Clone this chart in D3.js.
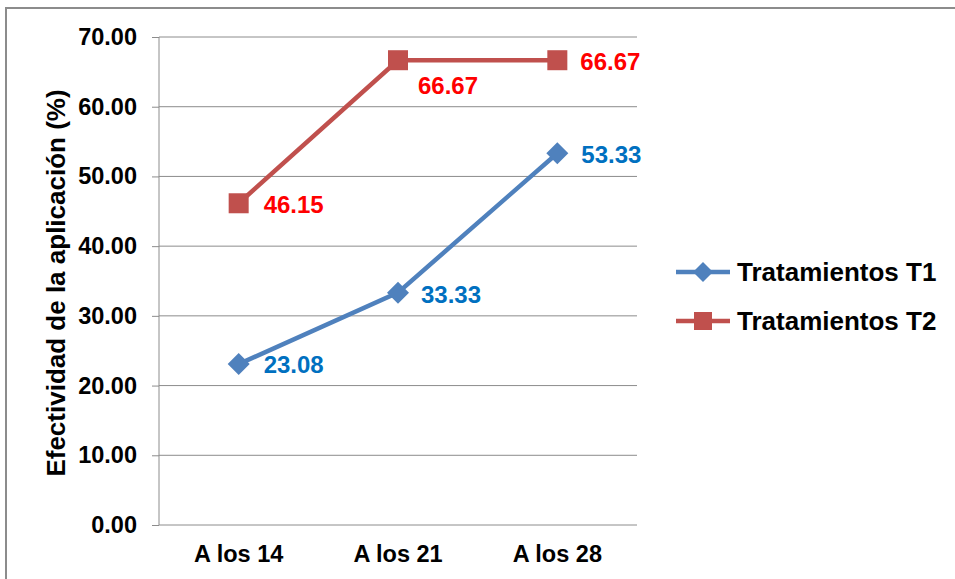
<!DOCTYPE html>
<html>
<head>
<meta charset="UTF-8">
<title>Efectividad</title>
<script src="https://cdn.jsdelivr.net/npm/d3@7/dist/d3.min.js"></script>
<style type="text/css">
body { margin: 0; background: #fff; }
svg { display: block; font-family: Arial, "Liberation Sans", sans-serif; font-weight: bold; }
</style>
</head>
<body>
<div class="chart"></div>
<script>
var categories = ["A los 14", "A los 21", "A los 28"];
var t1Values = [23.08, 33.33, 53.33];
var t2Values = [46.15, 66.67, 66.67];
var yTicks = [0, 10, 20, 30, 40, 50, 60, 70];
var seriesNames = ["Tratamientos T1", "Tratamientos T2"];

var svg = d3.select(".chart")
	.append("svg")
	.attr("width", 955)
	.attr("height", 579);

// outer frame
svg.append("rect")
	.attr("x", 6).attr("y", 8)
	.attr("width", 960).attr("height", 580)
	.attr("fill", "none")
	.attr("stroke", "#8c8c8c")
	.attr("stroke-width", 2);

var x = d3.scaleBand()
	.domain(categories)
	.range([159, 637]);

var y = d3.scaleLinear()
	.domain([0, 70])
	.range([525, 37]);

// gridlines
svg.append("g")
	.selectAll("line")
	.data(yTicks)
	.enter()
	.append("line")
	.attr("x1", 159).attr("x2", 637)
	.attr("y1", function(d){ return y(d); })
	.attr("y2", function(d){ return y(d); })
	.attr("stroke", "#8c8c8c")
	.attr("stroke-width", 1);

var yAxis = d3.axisLeft(y)
	.tickValues(yTicks)
	.tickSize(7)
	.tickPadding(15)
	.tickFormat(d3.format(".2f"));

var gy = svg.append("g")
	.attr("transform", "translate(159,0)")
	.call(yAxis);
gy.selectAll("line, path").attr("stroke", "#8c8c8c");
gy.select(".domain").attr("d", "M0," + y(70) + "V" + y(0));
gy.selectAll("text")
	.attr("font-size", 23.5)
	.attr("font-family", "Arial, 'Liberation Sans', sans-serif")
	.attr("font-weight", "bold")
	.attr("fill", "#000");

var xAxis = d3.axisBottom(x).tickSize(0).tickPadding(20);
var gx = svg.append("g")
	.attr("transform", "translate(0,525)")
	.call(xAxis);
gx.select(".domain").remove();
gx.selectAll("text")
	.attr("font-size", 23.5)
	.attr("font-family", "Arial, 'Liberation Sans', sans-serif")
	.attr("font-weight", "bold")
	.attr("fill", "#000");

svg.append("text")
	.attr("transform", "translate(65,283) rotate(-90)")
	.attr("text-anchor", "middle")
	.attr("font-size", 26)
	.text("Efectividad de la aplicación (%)");

function cx(i){ return x(categories[i]) + x.bandwidth() / 2; }

var line = d3.line()
	.x(function(d, i){ return cx(i); })
	.y(function(d){ return y(d); });

svg.append("path")
	.datum(t2Values)
	.attr("d", line)
	.attr("fill", "none")
	.attr("stroke", "#C0504D")
	.attr("stroke-width", 4.5);

svg.append("path")
	.datum(t1Values)
	.attr("d", line)
	.attr("fill", "none")
	.attr("stroke", "#4F81BD")
	.attr("stroke-width", 4.5);

svg.selectAll(".sq")
	.data(t2Values)
	.enter()
	.append("rect")
	.attr("x", function(d, i){ return cx(i) - 10; })
	.attr("y", function(d){ return y(d) - 10; })
	.attr("width", 20).attr("height", 20)
	.attr("fill", "#C0504D");

svg.selectAll(".dm")
	.data(t1Values)
	.enter()
	.append("path")
	.attr("d", function(d, i){
		var px = cx(i), py = y(d), r = 11;
		return "M" + px + "," + (py - r) + "L" + (px + r) + "," + py + "L" + px + "," + (py + r) + "L" + (px - r) + "," + py + "Z";
	})
	.attr("fill", "#4F81BD");

// data labels (offset from point)
var t1Off = [[25, 9], [23, 10], [24, 10]];
var t2Off = [[25, 10], [20, 34], [23, 10]];

svg.selectAll(".l1")
	.data(t1Values)
	.enter()
	.append("text")
	.attr("x", function(d, i){ return cx(i) + t1Off[i][0]; })
	.attr("y", function(d, i){ return y(d) + t1Off[i][1]; })
	.attr("font-size", 24)
	.attr("fill", "#0070C0")
	.text(function(d){ return d.toFixed(2); });

svg.selectAll(".l2")
	.data(t2Values)
	.enter()
	.append("text")
	.attr("x", function(d, i){ return cx(i) + t2Off[i][0]; })
	.attr("y", function(d, i){ return y(d) + t2Off[i][1]; })
	.attr("font-size", 24)
	.attr("fill", "#FF0000")
	.text(function(d){ return d.toFixed(2); });

// legend
var legendColors = ["#4F81BD", "#C0504D"];
var legend = svg.selectAll(".lg")
	.data(seriesNames)
	.enter()
	.append("g")
	.attr("transform", function(d, i){ return "translate(676," + (272 + i * 49) + ")"; });

legend.append("line")
	.attr("x1", 0).attr("x2", 54)
	.attr("stroke", function(d, i){ return legendColors[i]; })
	.attr("stroke-width", 4.5);

legend.append("path")
	.attr("d", function(d, i){
		return i === 0 ? "M27,-10L37,0L27,10L17,0Z" : "M18,-9H36V9H18Z";
	})
	.attr("fill", function(d, i){ return legendColors[i]; });

legend.append("text")
	.attr("x", 61)
	.attr("y", 9)
	.attr("font-size", 26)
	.attr("fill", "#000")
	.text(function(d){ return d; });
</script>
</body>
</html>
